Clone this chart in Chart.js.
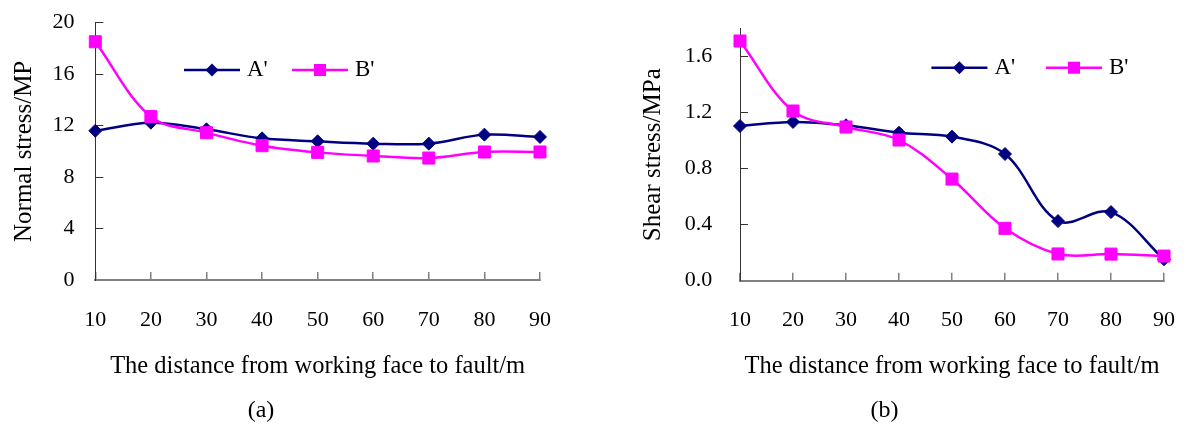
<!DOCTYPE html>
<html>
<head>
<meta charset="utf-8">
<script src="https://cdn.jsdelivr.net/npm/chart.js@4.4.0/dist/chart.umd.min.js"></script>
<style>
  html, body { margin: 0; padding: 0; background: #ffffff; }
  body { width: 1189px; height: 428px; overflow: hidden; position: relative; }
  canvas { position: absolute; top: 0; }
  #chartA { left: -18px; }
  #chartB { left: 605px; }
</style>
</head>
<body>
<canvas id="chartA" width="578" height="428"></canvas>
<canvas id="chartB" width="579" height="428"></canvas>
<script>
// ---- data ----
const distances = ['10', '20', '30', '40', '50', '60', '70', '80', '90'];
const normalStressA = [11.6, 12.23, 11.71, 11.01, 10.78, 10.6, 10.6, 11.3, 11.12];
const normalStressB = [18.52, 12.7, 11.45, 10.44, 9.92, 9.64, 9.48, 9.95, 9.95];
const shearStressA = [1.105, 1.134, 1.11, 1.057, 1.029, 0.905, 0.426, 0.49, 0.153];
const shearStressB = [1.712, 1.212, 1.098, 1.005, 0.726, 0.374, 0.191, 0.19, 0.176];
const normalTicks = [0, 4, 8, 12, 16, 20];
const shearTicks = [0, 0.4, 0.8, 1.2, 1.6];
const seriesNames = ["A'", "B'"];
const xTitle = 'The distance from working face to fault/m';

const FONT = "'Liberation Serif', 'Times New Roman', serif";
const NAVY = '#000080';
const MAGENTA = '#FF00FF';

// legend drawn inside the plot: line with marker in its middle, then the name
const lineLegend = {
  id: 'lineLegend',
  afterDatasetsDraw(chart, args, opts) {
    const { ctx, chartArea } = chart;
    ctx.save();
    chart.data.datasets.forEach((ds, i) => {
      const x0 = chartArea.left + opts.x + i * opts.gap;
      const y = chartArea.top + opts.y;
      const cx = x0 + opts.len / 2;
      ctx.strokeStyle = ds.borderColor;
      ctx.lineWidth = ds.borderWidth;
      ctx.beginPath();
      ctx.moveTo(x0, y);
      ctx.lineTo(x0 + opts.len, y);
      ctx.stroke();
      ctx.fillStyle = ds.backgroundColor;
      const r = ds.pointRadius;
      ctx.beginPath();
      if (ds.pointStyle === 'rectRot') {
        ctx.moveTo(cx - r, y); ctx.lineTo(cx, y - r); ctx.lineTo(cx + r, y); ctx.lineTo(cx, y + r);
        ctx.closePath();
      } else {
        const s = r * Math.SQRT1_2;
        ctx.rect(cx - s, y - s, 2 * s, 2 * s);
      }
      ctx.fill();
      ctx.fillStyle = '#000';
      ctx.font = '23px ' + FONT;
      ctx.textBaseline = 'middle';
      ctx.textAlign = 'left';
      ctx.fillText(ds.label, x0 + opts.len + 7, y);
    });
    ctx.restore();
  }
};

function makeChart(id, cfg) {
  const yTickBuilder = (s) => { s.ticks = cfg.ticks.map(v => ({ value: v })); };
  return new Chart(document.getElementById(id), {
    type: 'line',
    data: {
      labels: distances,
      datasets: [
        { label: seriesNames[0], data: cfg.a, borderColor: NAVY, backgroundColor: NAVY,
          pointStyle: 'rectRot', pointRadius: 6.5, pointHoverRadius: 6.5, pointBorderWidth: 1,
          borderWidth: 2.5, tension: 0.35, order: 1, clip: false, yAxisID: 'y' },
        { label: seriesNames[1], data: cfg.b, borderColor: MAGENTA, backgroundColor: MAGENTA,
          pointStyle: 'rect', pointRadius: 8.5, pointHoverRadius: 8.5, pointBorderWidth: 1,
          borderWidth: 2.5, tension: 0.35, order: 0, clip: false, yAxisID: 'y' }
      ]
    },
    options: {
      responsive: false,
      animation: false,
      events: [],
      layout: { padding: { left: 0, right: 20, top: cfg.top, bottom: 0 } },
      plugins: {
        legend: { display: false },
        tooltip: { enabled: false },
        title: { display: true, position: 'bottom', text: cfg.panel, color: '#000',
                 font: { family: FONT, size: 24, weight: 'normal' }, padding: { top: 0, bottom: 2.6 } },
        lineLegend: { x: cfg.legX, y: cfg.legY, gap: cfg.legGap, len: 56 }
      },
      scales: {
        x: {
          type: 'category',
          offset: false,
          afterFit: (s) => { s.height = cfg.xH; },
          grid: { display: true, drawOnChartArea: false, drawTicks: true, tickLength: -8,
                  color: '#808080', lineWidth: 1.5 },
          border: { display: true, color: '#808080', width: 2 },
          ticks: { color: '#000', font: { family: FONT, size: 22, lineHeight: cfg.xLh + 'px' },
                   padding: 0, maxRotation: 0, autoSkip: false },
          title: { display: true, text: xTitle, color: '#000', font: { family: FONT, size: 24.5 },
                   padding: { top: 0, bottom: 15 } }
        },
        // outer axis: tick labels and title
        y: {
          type: 'linear',
          position: 'left',
          weight: 1,
          min: 0,
          max: cfg.max,
          afterFit: (s) => { s.width = cfg.yW; },
          afterBuildTicks: yTickBuilder,
          grid: { display: true, drawOnChartArea: false, drawTicks: true, tickLength: cfg.yTl,
                  color: 'rgba(0,0,0,0)' },
          border: { display: false },
          ticks: { color: '#000', font: { family: FONT, size: 22 }, padding: 0,
                   callback: cfg.fmt },
          title: { display: true, text: cfg.yTitle, color: '#000', font: { family: FONT, size: 25 },
                   padding: { top: cfg.yTitlePad, bottom: 0 } }
        },
        // inner axis: axis line with inward tick marks
        y2: {
          type: 'linear',
          position: 'left',
          weight: 0,
          min: 0,
          max: cfg.max,
          afterFit: (s) => { s.width = 0; },
          afterBuildTicks: yTickBuilder,
          grid: { display: true, drawOnChartArea: false, drawTicks: true, tickLength: -8,
                  color: '#333333', lineWidth: 1 },
          border: { display: true, color: '#333333', width: 1 },
          ticks: { display: false },
          title: { display: false }
        }
      }
    },
    plugins: [lineLegend]
  });
}

makeChart('chartA', {
  a: normalStressA, b: normalStressB, ticks: normalTicks, max: 20,
  fmt: (v) => String(v), yTitle: 'Normal stress/MP', panel: '(a)',
  top: 22.7, xH: 116.6, yW: 113.3, xLh: 96, yTl: 20.8, yTitlePad: 27,
  legX: 88.7, legY: 47.3, legGap: 108
});

makeChart('chartB', {
  a: shearStressA, b: shearStressB, ticks: shearTicks, max: 1.8,
  fmt: (v) => Number(v).toFixed(1), yTitle: 'Shear stress/MPa', panel: '(b)',
  top: 28.7, xH: 115.9, yW: 135, xLh: 94.6, yTl: 27.7, yTitlePad: 33.3,
  legX: 191.4, legY: 39, legGap: 114.6
});
</script>
</body>
</html>
